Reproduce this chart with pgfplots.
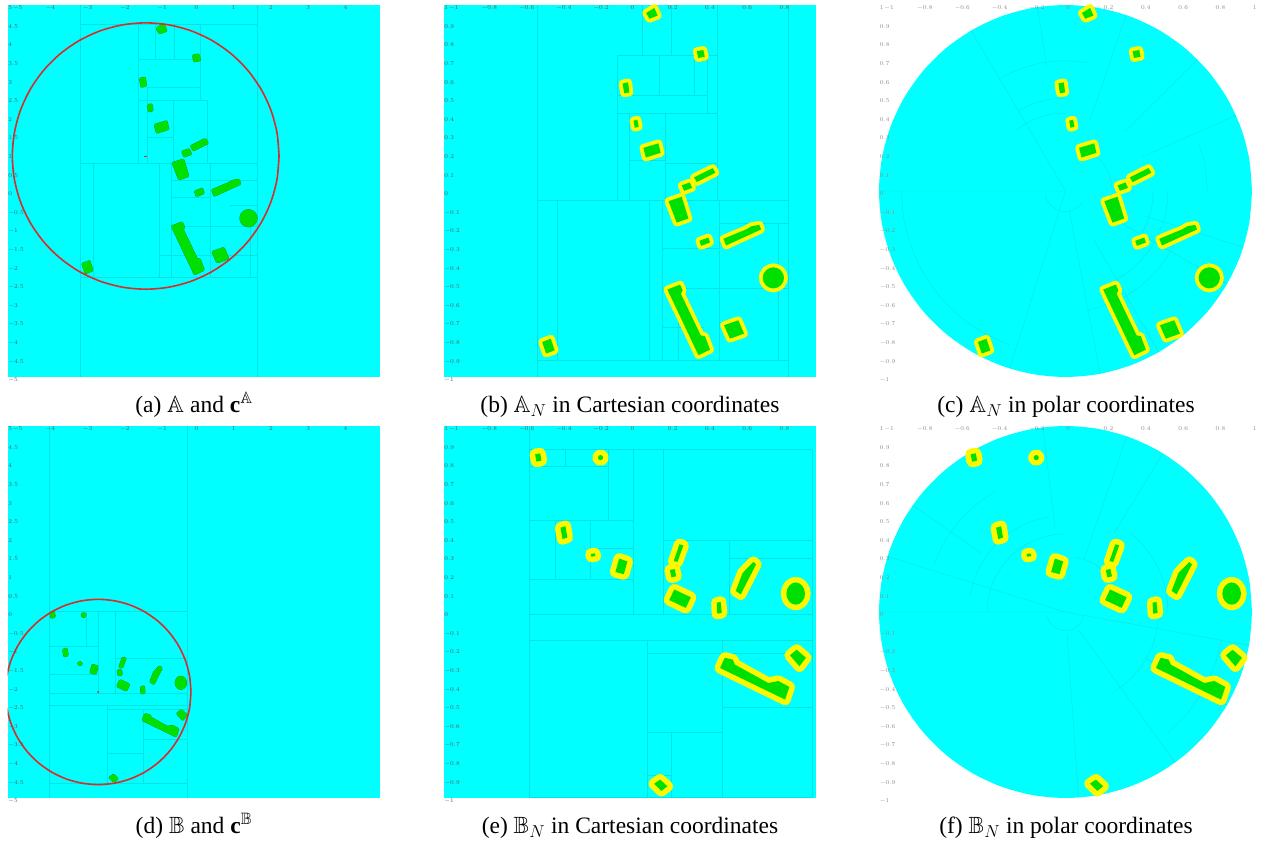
\documentclass[border=0pt]{standalone}
\usepackage{amssymb}
\usepackage{fontspec}
\setmainfont{Liberation Serif}
\usepackage{pgfplots}
\usepackage{pgfplotstable}
\pgfplotsset{compat=1.18}
\definecolor{cy}{RGB}{0,255,255}
\definecolor{gr}{RGB}{0,224,0}
\definecolor{grd}{RGB}{20,150,20}
\definecolor{ye}{RGB}{252,248,0}
\definecolor{pl}{RGB}{0,228,228}
\definecolor{rd}{RGB}{215,45,45}
\newcommand\tk{\fontsize{6}{7}\selectfont}
\newcommand\capfont{\fontsize{23.5}{28}\selectfont}

% unit circle, every 10 degrees
\pgfplotstableread{
x y
1 0
0.9848 0.1736
0.9397 0.3420
0.8660 0.5
0.7660 0.6428
0.6428 0.7660
0.5 0.8660
0.3420 0.9397
0.1736 0.9848
0 1
-0.1736 0.9848
-0.3420 0.9397
-0.5 0.8660
-0.6428 0.7660
-0.7660 0.6428
-0.8660 0.5
-0.9397 0.3420
-0.9848 0.1736
-1 0
-0.9848 -0.1736
-0.9397 -0.3420
-0.8660 -0.5
-0.7660 -0.6428
-0.6428 -0.7660
-0.5 -0.8660
-0.3420 -0.9397
-0.1736 -0.9848
0 -1
0.1736 -0.9848
0.3420 -0.9397
0.5 -0.8660
0.6428 -0.7660
0.7660 -0.6428
0.8660 -0.5
0.9397 -0.3420
0.9848 -0.1736
1 0
}\unitcirc

% ---- set A buildings (normalized coordinates) ----
\pgfplotstableread{
x y
0.088 0.957
0.132 0.984
0.150 0.943
0.106 0.926
}\Aa
\pgfplotstableread{
x y
0.360 0.752
0.395 0.758
0.403 0.722
0.367 0.715
}\Ab
\pgfplotstableread{
x y
-0.038 0.578
-0.009 0.584
-0.002 0.530
-0.030 0.525
}\Ac
\pgfplotstableread{
x y
0.020 0.378
0.041 0.383
0.048 0.345
0.027 0.340
}\Ad
\pgfplotstableread{
x y
0.073 0.232
0.154 0.256
0.166 0.205
0.086 0.180
}\Ae
\pgfplotstableread{
x y
0.279 0.030
0.322 0.046
0.335 0.017
0.292 0.001
}\Af
\pgfplotstableread{
x y
0.345 0.073
0.445 0.123
0.460 0.098
0.360 0.048
}\Ag
\pgfplotstableread{
x y
0.208 -0.055
0.279 -0.031
0.315 -0.148
0.252 -0.170
}\Ah
\pgfplotstableread{
x y
0.374 -0.268
0.422 -0.250
0.431 -0.277
0.383 -0.295
}\Ai
\pgfplotstableread{
x y
0.503 -0.257
0.624 -0.207
0.655 -0.189
0.696 -0.182
0.705 -0.207
0.517 -0.293
}\Aj
\pgfplotstableread{
x y
0.828 -0.467
0.824 -0.446
0.811 -0.427
0.793 -0.415
0.771 -0.410
0.749 -0.415
0.731 -0.427
0.718 -0.446
0.714 -0.467
0.718 -0.488
0.731 -0.507
0.749 -0.519
0.771 -0.524
0.793 -0.519
0.811 -0.507
0.824 -0.488
}\Ak
\pgfplotstableread{
x y
0.202 -0.530
0.270 -0.503
0.284 -0.534
0.274 -0.552
0.381 -0.776
0.404 -0.781
0.431 -0.853
0.369 -0.883
}\Al
\pgfplotstableread{
x y
0.506 -0.722
0.583 -0.695
0.614 -0.767
0.538 -0.794
}\Am
\pgfplotstableread{
x y
-0.470 -0.812
-0.424 -0.794
-0.403 -0.857
-0.449 -0.874
}\An

% ---- set B buildings (normalized coordinates) ----
\pgfplotstableread{
x y
-0.508 0.848
-0.481 0.853
-0.474 0.814
-0.501 0.808
}\Ba
\pgfplotstableread{
x y
-0.143 0.830
-0.147 0.840
-0.157 0.844
-0.167 0.840
-0.171 0.830
-0.167 0.820
-0.157 0.816
-0.147 0.820
}\Bb
\pgfplotstableread{
x y
-0.372 0.453
-0.345 0.461
-0.335 0.400
-0.361 0.392
}\Bc
\pgfplotstableread{
x y
-0.209 0.312
-0.188 0.315
-0.184 0.301
-0.206 0.297
}\Bd
\pgfplotstableread{
x y
-0.057 0.287
-0.0125 0.272
-0.032 0.203
-0.077 0.215
}\Be
\pgfplotstableread{
x y
0.267 0.364
0.288 0.358
0.256 0.269
0.236 0.274
}\Bf
\pgfplotstableread{
x y
0.216 0.226
0.241 0.231
0.249 0.192
0.224 0.186
}\Bg
\pgfplotstableread{
x y
0.239 0.121
0.328 0.079
0.301 0.022
0.212 0.064
}\Bh
\pgfplotstableread{
x y
0.467 0.050
0.488 0.054
0.494 -0.005
0.470 -0.009
}\Bi
\pgfplotstableread{
x y
0.569 0.113
0.606 0.210
0.637 0.242
0.664 0.269
0.678 0.256
0.596 0.095
}\Bj
\pgfplotstableread{
x y
0.941 0.099
0.937 0.122
0.926 0.141
0.910 0.154
0.891 0.159
0.872 0.154
0.856 0.141
0.845 0.122
0.841 0.099
0.845 0.076
0.856 0.057
0.872 0.044
0.891 0.039
0.910 0.044
0.926 0.057
0.937 0.076
}\Bk
\pgfplotstableread{
x y
0.485 -0.301
0.510 -0.246
0.553 -0.256
0.565 -0.283
0.744 -0.382
0.798 -0.371
0.857 -0.403
0.834 -0.471
}\Bl
\pgfplotstableread{
x y
0.860 -0.233
0.896 -0.203
0.946 -0.246
0.911 -0.292
}\Bm
\pgfplotstableread{
x y
0.131 -0.923
0.163 -0.901
0.202 -0.937
0.170 -0.962
}\Bn

% ---- partition lines ----
\pgfplotstableread{
x y
-3.05 -5
-3.05 5
nan nan
1.69 -5
1.69 5
nan nan
-3.05 4.49
1.69 4.49
nan nan
-3.05 0.74
1.69 0.74
nan nan
-3.05 -2.31
1.69 -2.31
nan nan
-1.485 4.49
-1.485 0.74
nan nan
-1.485 3.54
0.17 3.54
nan nan
0.17 4.49
0.17 2.44
nan nan
-1.26 2.78
0.17 2.78
nan nan
-1.485 2.44
0.35 2.44
nan nan
0.35 2.44
0.35 0.74
nan nan
-1.26 2.78
-1.26 0.74
nan nan
-1.26 1.46
-0.55 1.46
nan nan
-0.55 2.44
-0.55 0.74
nan nan
-1.04 4.49
-1.04 3.54
nan nan
-0.52 4.49
-0.52 3.54
nan nan
-2.71 0.74
-2.71 -2.31
nan nan
-0.92 0.74
-0.92 -2.31
nan nan
-0.61 0.74
-0.61 -2.31
nan nan
-0.61 0.29
1.69 0.29
nan nan
-0.61 -0.17
0.44 -0.17
nan nan
0.44 0.74
0.44 -2.31
nan nan
0.98 -0.38
1.69 -0.38
nan nan
-0.61 -0.95
1.69 -0.95
nan nan
1.51 -0.95
1.51 -2.31
nan nan
-0.92 -1.73
1.69 -1.73
}\La
\pgfplotstableread{
x y
-0.496 -1
-0.496 1
nan nan
0.848 -1
0.848 1
nan nan
-0.496 -0.049
0.848 -0.049
nan nan
-0.496 -0.910
0.848 -0.910
nan nan
-0.066 0.731
-0.066 -0.049
nan nan
-0.066 0.731
0.470 0.731
nan nan
0.470 1
0.470 -0.049
nan nan
0.068 1
0.068 0.731
nan nan
0.225 1
0.225 0.731
nan nan
-0.066 0.516
0.417 0.516
nan nan
0.417 0.731
0.417 0.417
nan nan
-0.066 0.417
0.470 0.417
nan nan
0.156 0.731
0.156 0.516
nan nan
0.347 0.731
0.347 0.516
nan nan
-0.002 0.417
-0.002 -0.049
nan nan
-0.002 0.166
0.19 0.166
nan nan
0.19 0.417
0.19 -0.049
nan nan
0.19 0.15
0.47 0.15
nan nan
-0.388 -0.049
-0.388 -0.910
nan nan
0.106 -0.049
0.106 -0.910
nan nan
0.175 -0.049
0.175 -0.910
nan nan
0.479 -0.049
0.479 -0.910
nan nan
0.479 -0.171
0.848 -0.171
nan nan
0.798 -0.171
0.798 -0.910
nan nan
0.175 -0.525
0.848 -0.525
nan nan
0.175 -0.309
0.479 -0.309
nan nan
0.175 -0.73
0.40 -0.73
nan nan
0.26 -0.525
0.26 -0.910
}\Lb
\pgfplotstableread{
x y
-1 0
0 0
nan nan
0 0
-0.506 0.8625
nan nan
0 0
-0.299 -0.954
nan nan
0.0204 -0.108
0.1857 -0.9826
nan nan
-0.102 0.672
-0.1495 0.9888
nan nan
0.130 0.378
0.3256 0.9455
nan nan
0.318 0.318
0.707 0.707
nan nan
0.411 0.183
0.9135 0.4067
nan nan
0.429 -0.136
0.9532 -0.3024
nan nan
0.26 -0.15
0.866 -0.5
nan nan
0.15 -0.26
0.5 -0.866
}\Lc
\pgfplotstableread{
x y
-3.885 -5
-3.885 5
nan nan
-0.183 -5
-0.183 5
nan nan
-3.885 0.03
-0.183 0.03
nan nan
-3.885 -0.92
-2.56 -0.92
nan nan
-2.56 0.03
-2.56 -2.17
nan nan
-2.12 0.03
-2.12 -2.17
nan nan
-2.9 0.03
-2.9 -0.92
nan nan
-3.885 -1.68
-2.56 -1.68
nan nan
-2.12 -1.23
-0.183 -1.23
nan nan
-3.885 -2.17
-0.183 -2.17
nan nan
-3.885 -2.51
-0.183 -2.51
nan nan
-2.32 -2.51
-2.32 -4.61
nan nan
-2.32 -2.6
-0.183 -2.6
nan nan
-1.36 -2.6
-1.36 -4.61
nan nan
-1.36 -3.43
-0.183 -3.43
nan nan
-2.32 -3.79
-1.36 -3.79
nan nan
-3.885 -4.61
-0.183 -4.61
}\Ld
\pgfplotstableread{
x y
-0.538 -1
-0.538 1
nan nan
0.980 0.873
0.980 -0.995
nan nan
-0.538 0.873
0.980 0.873
nan nan
-0.538 -0.014
0.980 -0.014
nan nan
-0.538 -0.152
0.980 -0.152
nan nan
-0.538 -0.995
0.980 -0.995
nan nan
0.095 -0.152
0.095 -0.995
nan nan
0.095 -0.645
0.494 -0.645
nan nan
0.494 -0.152
0.494 -0.995
nan nan
0.494 -0.511
0.980 -0.511
nan nan
0.095 -0.22
0.980 -0.22
nan nan
0.02 0.873
0.02 -0.014
nan nan
-0.538 0.493
0.02 0.493
nan nan
-0.538 0.179
0.02 0.179
nan nan
0.181 0.873
0.181 -0.014
nan nan
0.181 0.385
0.980 0.385
nan nan
0.535 0.287
0.980 0.287
nan nan
0.535 0.385
0.535 -0.014
nan nan
-0.114 0.873
-0.114 0.493
nan nan
-0.538 0.783
-0.114 0.783
nan nan
-0.347 0.873
-0.347 0.783
nan nan
-0.40 0.493
-0.40 0.179
nan nan
-0.213 0.493
-0.213 0.179
nan nan
-0.213 0.344
0.02 0.344
nan nan
0.225 -0.645
0.225 -0.995
nan nan
0.095 -0.878
0.225 -0.878
}\Le
\pgfplotstableread{
x y
-1 0
0 0
nan nan
0 0
-0.954 0.299
nan nan
-0.45 0.315
-0.819 0.574
nan nan
-0.055 0.447
-0.122 0.9925
nan nan
0.099 0.283
0.329 0.944
nan nan
0.261 0.426
0.5225 0.8526
nan nan
0 0
0.984 -0.179
nan nan
0.0084 -0.1197
0.0698 -0.9976
nan nan
0.0705 -0.097
0.5878 -0.809
nan nan
0.43 -0.25
0.866 -0.5
}\Lf

\newcommand\forA[1]{#1\Aa#1\Ab#1\Ac#1\Ad#1\Ae#1\Af#1\Ag#1\Ah#1\Ai#1\Aj#1\Ak#1\Al#1\Am#1\An}
\newcommand\forB[1]{#1\Ba#1\Bb#1\Bc#1\Bd#1\Be#1\Bf#1\Bg#1\Bh#1\Bi#1\Bj#1\Bk#1\Bl#1\Bm#1\Bn}
\newcommand\yelA[1]{\addplot[fill=ye, draw=ye, line width=7.8pt, line join=round] table {#1} -- cycle;}
\newcommand\yelB[1]{\addplot[fill=ye, draw=ye, line width=11.2pt, line join=round] table {#1} -- cycle;}
\newcommand\grn[1]{\addplot[fill=gr, draw=none] table {#1} -- cycle;}
\newcommand\bldA[1]{\addplot[fill=gr, draw=gr, line width=2.2pt, line join=round,
  preaction={draw=grd, line width=3.0pt, line join=round}]
  table[x expr=\thisrow{x}*3.58-1.29, y expr=\thisrow{y}*3.58+0.94] {#1} -- cycle;}
\newcommand\bldB[1]{\addplot[fill=gr, draw=gr, line width=2.2pt, line join=round,
  preaction={draw=grd, line width=3.0pt, line join=round}]
  table[x expr=\thisrow{x}*2.49-2.565, y expr=\thisrow{y}*2.49-2.15] {#1} -- cycle;}
\newcommand\arcc[3]{\addplot[pl, smooth] table[x expr=\thisrow{x}*#1, y expr=\thisrow{y}*#1,
  skip coords between index={0}{#2}, skip coords between index={#3}{37}] {\unitcirc};}

\pgfplotsset{
  panel/.style={
    scale only axis, width=372.5pt, height=372pt, anchor=south west,
    axis line style={draw=none}, major tick style={draw=none}, minor tick num=0,
    xticklabel pos=upper, axis on top, unbounded coords=jump,
    scaled ticks=false,
    xticklabel style={anchor=north west, inner sep=0.7pt, font=\tk, text=black!65},
    yticklabel style={anchor=north west, inner sep=0.7pt, font=\tk, text=black!65},
    extra x tick style={xticklabel style={xshift=4.5pt}},
  },
  big/.style={panel, xmin=-5, xmax=5, ymin=-5, ymax=5,
    xtick={-4,-3,-2,-1,0,1,2,3,4}, extra x ticks={-5},
    ytick={-5,-4.5,-4,-3.5,-3,-2.5,-2,-1.5,-1,-0.5,0,0.5,1,1.5,2,2.5,3,3.5,4,4.5,5},
    axis background/.style={fill=cy}},
  unit/.style={panel, xmin=-1, xmax=1, ymin=-1, ymax=1,
    xtick={-0.8,-0.6,-0.4,-0.2,0,0.2,0.4,0.6,0.8}, extra x ticks={-1},
    ytick={-1,-0.9,-0.8,-0.7,-0.6,-0.5,-0.4,-0.3,-0.2,-0.1,0,0.1,0.2,0.3,0.4,0.5,0.6,0.7,0.8,0.9,1}},
  polar/.style={unit, xtick={-0.8,-0.6,-0.4,-0.2,0,0.2,0.4,0.6,0.8,1},
    xticklabel style={text=black!45}, yticklabel style={text=black!45}},
  pl/.style={draw=pl, line width=0.35pt},
}

\begin{document}
\begin{tikzpicture}
\path[use as bounding box] (0pt,0pt) rectangle (1272pt,843pt);

% (a)
\begin{axis}[big, at={(7.5pt,466pt)}]
\addplot[pl] table {\La};
\forA{\bldA}
\addplot[rd, line width=1.6pt, smooth] table[x expr=\thisrow{x}*3.58-1.29, y expr=\thisrow{y}*3.58+0.94] {\unitcirc};
\addplot[rd, only marks, mark=-, mark size=1.4pt, mark options={line width=0.8pt}] coordinates {(-1.29,0.94)};
\end{axis}

% (b)
\begin{axis}[unit, at={(443.5pt,466pt)}, axis background/.style={fill=cy}]
\addplot[pl] table {\Lb};
\forA{\yelA}
\forA{\grn}
\end{axis}

% (c)
\begin{axis}[polar, at={(879pt,466pt)}, width=373pt]
\addplot[fill=cy, draw=none, smooth] table {\unitcirc} -- cycle;
\addplot[pl] table {\Lc};
\arcc{0.88}{18}{26}
\arcc{0.11}{19}{34}
\arcc{0.42}{9}{14}
\arcc{0.70}{8}{13}
\arcc{0.76}{0}{3}
\arcc{0.47}{33}{37}
\arcc{0.25}{0}{7}
\arcc{0.55}{30}{37}
\arcc{0.65}{28}{35}
\arcc{0.50}{9}{13}
\forA{\yelA}
\forA{\grn}
\end{axis}

% (d)
\begin{axis}[big, at={(7.5pt,45pt)}]
\addplot[pl] table {\Ld};
\forB{\bldB}
\addplot[rd, line width=1.6pt, smooth] table[x expr=\thisrow{x}*2.49-2.565, y expr=\thisrow{y}*2.49-2.15] {\unitcirc};
\addplot[rd, only marks, mark=*, mark size=0.7pt] coordinates {(-2.565,-2.15)};
\end{axis}

% (e)
\begin{axis}[unit, at={(443.5pt,45pt)}, axis background/.style={fill=cy}]
\addplot[pl] table {\Le};
\forB{\yelB}
\forB{\grn}
\end{axis}

% (f)
\begin{axis}[polar, at={(879pt,45pt)}, width=373pt]
\addplot[fill=cy, draw=none, smooth] table {\unitcirc} -- cycle;
\addplot[pl] table {\Lf};
\arcc{0.10}{19}{36}
\arcc{0.42}{9}{19}
\arcc{0.52}{10}{18}
\arcc{0.75}{12}{17}
\arcc{0.55}{0}{6}
\arcc{0.50}{30}{37}
\arcc{0.85}{31}{36}
\arcc{0.30}{2}{9}
\forB{\yelB}
\forB{\grn}
\end{axis}

% captions
\node[anchor=base, font=\capfont, inner sep=0pt] at (194pt,430pt) {(a) $\mathbb{A}$ and $\mathbf{c}^{\mathbb{A}}$};
\node[anchor=base, font=\capfont, inner sep=0pt] at (630pt,430pt) {(b) $\mathbb{A}_{N}$ in Cartesian coordinates};
\node[anchor=base, font=\capfont, inner sep=0pt] at (1066pt,430pt) {(c) $\mathbb{A}_{N}$ in polar coordinates};
\node[anchor=base, font=\capfont, inner sep=0pt] at (194pt,9pt) {(d) $\mathbb{B}$ and $\mathbf{c}^{\mathbb{B}}$};
\node[anchor=base, font=\capfont, inner sep=0pt] at (630pt,9pt) {(e) $\mathbb{B}_{N}$ in Cartesian coordinates};
\node[anchor=base, font=\capfont, inner sep=0pt] at (1066pt,9pt) {(f) $\mathbb{B}_{N}$ in polar coordinates};
\end{tikzpicture}
\end{document}
